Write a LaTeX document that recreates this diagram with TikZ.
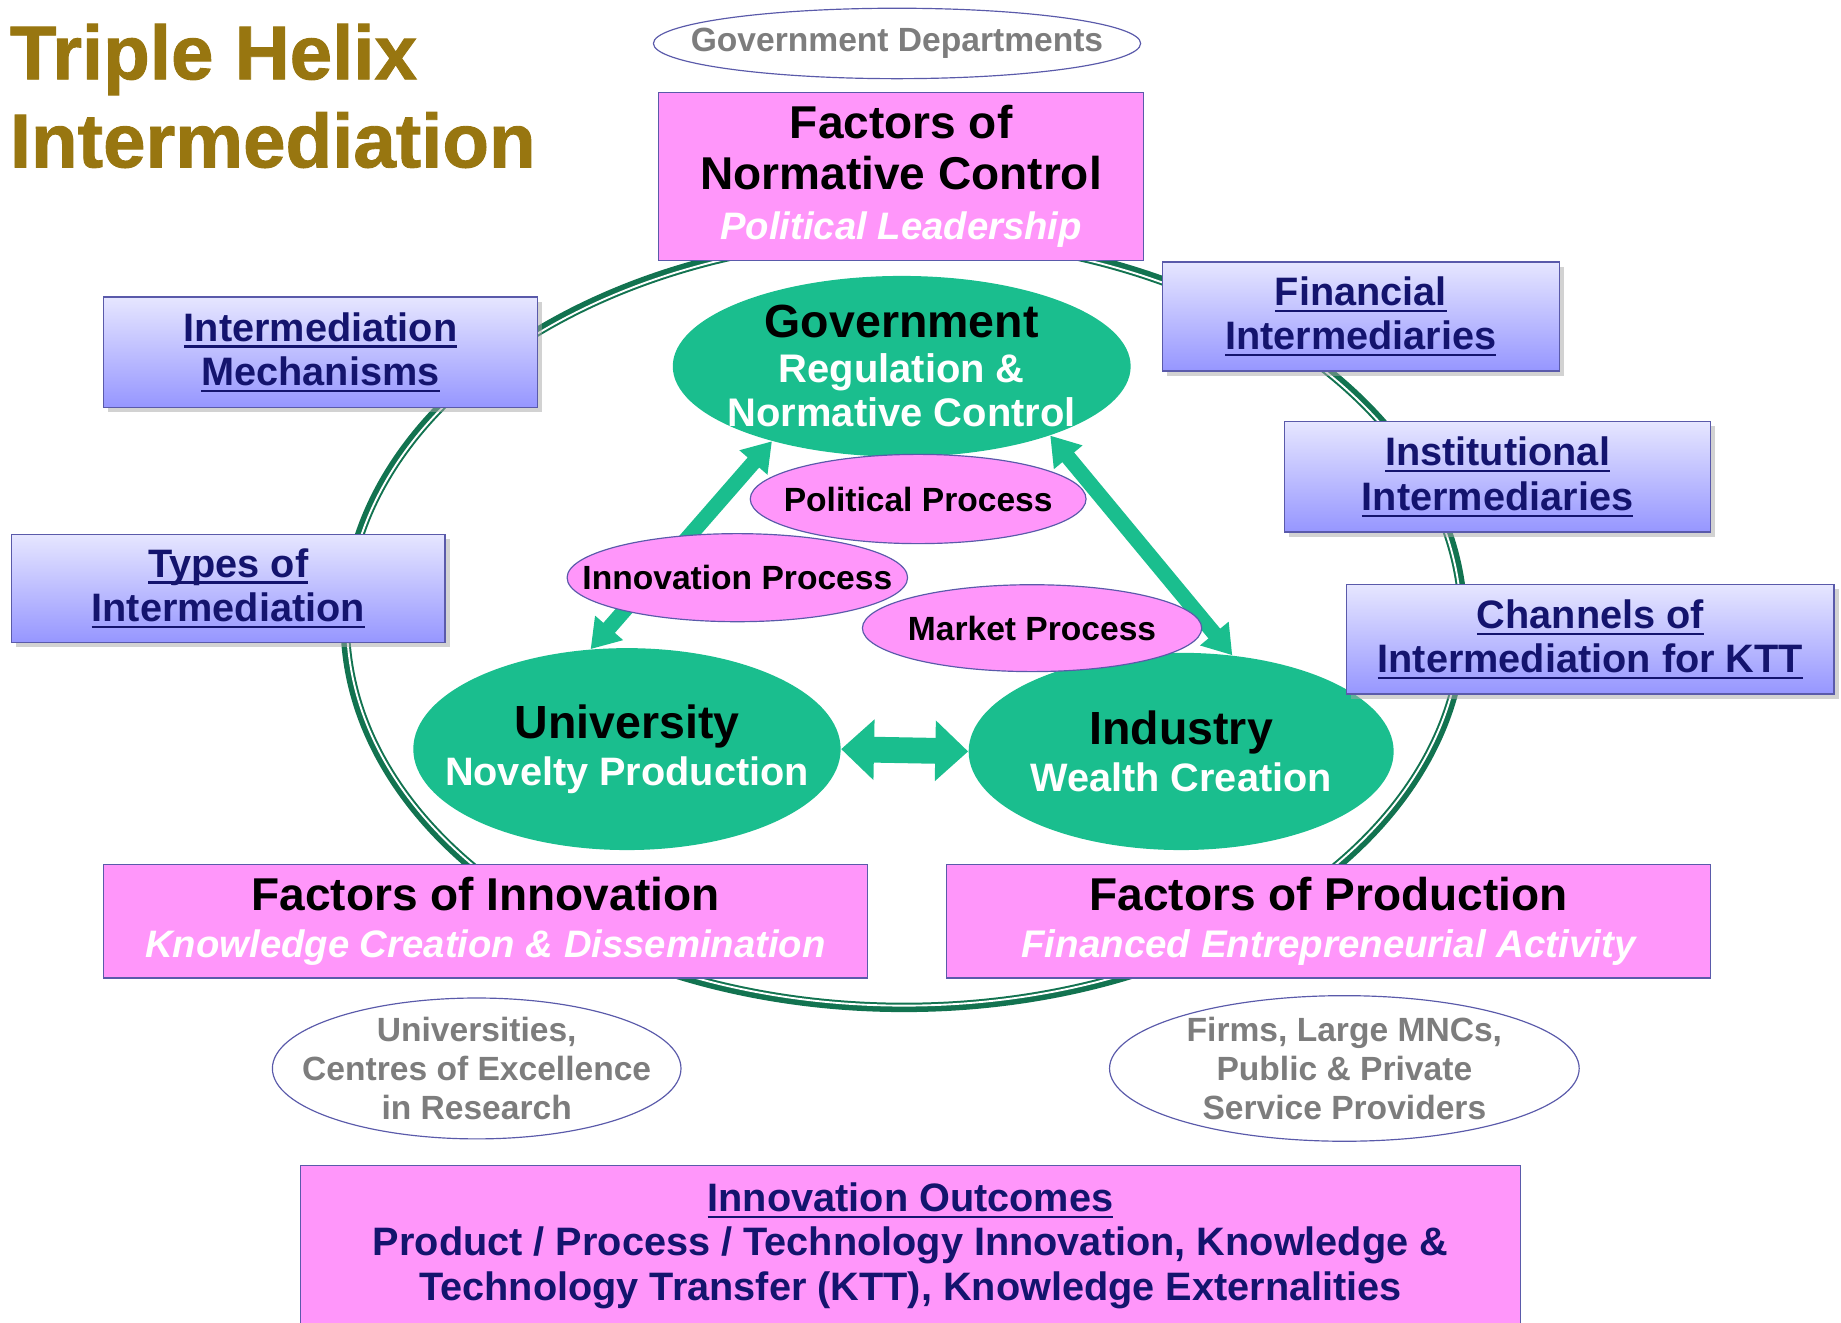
\documentclass[tikz,border=0pt]{standalone}
\usepackage{fontspec}
\setmainfont{Liberation Sans}
\newfontfamily\helixtitlefont{Liberation Sans}[BoldFeatures={FakeBold=1.2}]
\usetikzlibrary{shapes.geometric,arrows.meta,shadows}

\definecolor{helixgold}{RGB}{152,118,16}
\definecolor{helixgreen}{RGB}{26,190,142}
\definecolor{ringgreen}{RGB}{18,115,80}
\definecolor{helixpink}{RGB}{255,150,250}
\definecolor{edgeblue}{RGB}{90,90,170}
\definecolor{boxtop}{RGB}{230,230,255}
\definecolor{boxbot}{RGB}{150,150,255}
\definecolor{boxtext}{RGB}{20,20,110}
\definecolor{actorgray}{RGB}{125,125,125}
\newcommand{\fs}[2]{\fontsize{#1}{#2}\selectfont}
\newsavebox{\ulnbox}
\newcommand{\uln}[1]{\sbox{\ulnbox}{#1}\rlap{\rule[-2.8pt]{\wd\ulnbox}{0.9pt}}\usebox{\ulnbox}}

\begin{document}
\begin{tikzpicture}[x=0.5pt,y=-0.5pt,
  every node/.style={align=center, inner sep=0pt},
  helixoval/.style={ellipse, inner sep=-20pt, fill=helixgreen},
  procoval/.style={ellipse, inner sep=-20pt, draw=edgeblue, line width=0.5pt,
    fill=helixpink, font=\bfseries\fs{14.3}{17}},
  actoroval/.style={ellipse, inner sep=-20pt, draw=edgeblue, line width=0.5pt,
    fill=white, text=actorgray, font=\bfseries\fs{14.3}{16.5}},
  factorbox/.style={rectangle, draw=edgeblue, line width=0.5pt, fill=helixpink},
  interbox/.style={rectangle, draw=edgeblue, line width=0.6pt,
    top color=boxtop, bottom color=boxbot, text=boxtext,
    font=\bfseries\fs{16.9}{19},
    drop shadow={shadow xshift=2pt, shadow yshift=-2pt, fill=black!35}},
  helixarrow/.style={helixgreen, line width=6.5pt,
    {Triangle[length=12pt,width=15pt]}-{Triangle[length=12pt,width=15pt]}},
  widearrow/.style={helixgreen, line width=11pt,
    {Triangle[length=14pt,width=25pt]}-{Triangle[length=14pt,width=25pt]}}]
\useasboundingbox (0,0) rectangle (1568,1126);

% outer helix ring
\draw[ringgreen, line width=4pt] (770,530) ellipse (476 and 328);
\draw[white, line width=0.8pt] (770,530) ellipse (474.5 and 326.5);

% the three spheres
\node[helixoval, minimum width=195pt, minimum height=77pt, font=\bfseries\fs{17}{19}] (gov) at (768,312)
  {{\fs{19.8}{19}Government}\\ \textcolor{white}{Regulation \&}\\ \textcolor{white}{Normative Control}};
\node[helixoval, minimum width=182pt, minimum height=86pt, font=\bfseries\fs{16.9}{20}] (univ) at (534,638)
  {{\fs{19.8}{20}University}\\ \textcolor{white}{Novelty Production}};
\node[helixoval, minimum width=181pt, minimum height=84pt, font=\bfseries\fs{16.9}{20}] (ind) at (1006,640)
  {{\fs{19.8}{20}Industry}\\ \textcolor{white}{Wealth Creation}};

\draw[helixarrow] (gov.210) -- (univ.110);
\draw[helixarrow] (gov.335) -- (ind.62);
\draw[widearrow] (univ.east) -- (ind.west);

% processes
\node[procoval, minimum width=143pt, minimum height=38pt] (polp) at (782,425) {Political Process};
\node[procoval, minimum width=145pt, minimum height=37.5pt] (innp) at (628,492) {Innovation Process};
\node[procoval, minimum width=144.5pt, minimum height=37pt] (markp) at (879,535) {Market Process};

% factors
\node[factorbox, minimum width=206.5pt, minimum height=71.5pt, font=\bfseries\fs{19.6}{21.5}] (norm) at (767.5,150.5)
  {Factors of\\ Normative Control\\ \textcolor{white}{\itshape\fs{16.3}{20}Political Leadership}};
\node[factorbox, minimum width=325.5pt, minimum height=48.5pt, font=\bfseries\fs{19.6}{20}] (facinn) at (413.5,784.5)
  {Factors of Innovation\\ \textcolor{white}{\itshape\fs{16.3}{20}Knowledge Creation \& Dissemination}};
\node[factorbox, minimum width=325.5pt, minimum height=48.5pt, font=\bfseries\fs{19.6}{20}] (facprod) at (1131.5,784.5)
  {Factors of Production\\ \textcolor{white}{\itshape\fs{16.4}{20}Financed Entrepreneurial Activity}};

% intermediation
\node[interbox, minimum width=185pt, minimum height=47pt] (mech) at (273,300)
  {\uln{Intermediation}\\ \uln{Mechanisms}};
\node[interbox, minimum width=169pt, minimum height=46.5pt] (fin) at (1159,269.5)
  {\uln{Financial}\\ \uln{Intermediaries}};
\node[interbox, minimum width=181.5pt, minimum height=47pt] (inst) at (1275.5,406)
  {\uln{Institutional}\\ \uln{Intermediaries}};
\node[interbox, minimum width=184.5pt, minimum height=46pt] (types) at (194.5,501)
  {\uln{Types of}\\ \uln{Intermediation}};
\node[interbox, minimum width=207.5pt, minimum height=46.5pt] (chan) at (1354.5,544.5)
  {\uln{Channels of}\\ \uln{Intermediation for KTT}};

% actors
\node[actoroval, minimum width=207.5pt, minimum height=30pt] (govdep) at (764,37) {Government Departments};
\node[actoroval, minimum width=174pt, minimum height=60pt] (unis) at (406,910)
  {Universities,\\ Centres of Excellence\\ in Research};
\node[actoroval, minimum width=200pt, minimum height=62pt] (firms) at (1145,910)
  {Firms, Large MNCs,\\ Public \& Private\\ Service Providers};

% outcomes
\node[factorbox, minimum width=519.5pt, minimum height=68pt, text=boxtext, font=\bfseries\fs{16.9}{19}] (outc) at (775.5,1061)
  {\uln{Innovation Outcomes}\\ Product / Process / Technology Innovation, Knowledge \&\\
   Technology Transfer (KTT), Knowledge Externalities};

\node[anchor=north west, align=left, text=helixgold, font=\helixtitlefont\bfseries\fs{32.5}{37.5}] (title) at (8,20)
  {Triple Helix\\ Intermediation};
\end{tikzpicture}
\end{document}
